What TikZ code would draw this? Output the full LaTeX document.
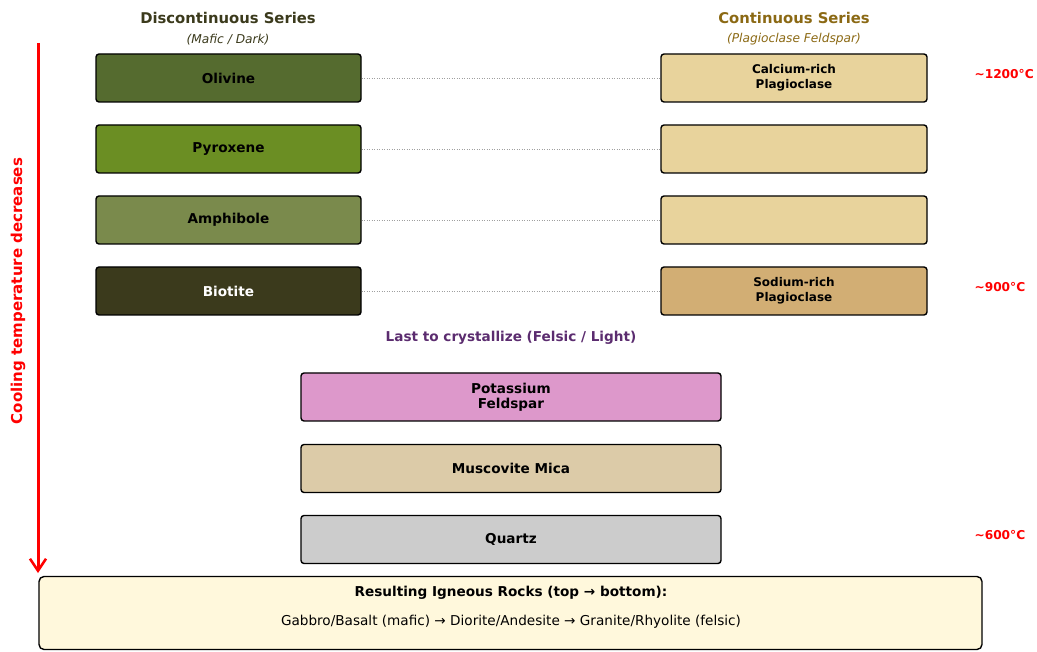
\documentclass[tikz,border=0pt]{standalone}
\usepackage{fontspec}
\setmainfont{DejaVu Sans}
\usetikzlibrary{arrows.meta}
\definecolor{olv}{HTML}{556B2F}
\definecolor{pyx}{HTML}{6B8E23}
\definecolor{amp}{HTML}{7A8A4C}
\definecolor{bio}{HTML}{3B3A1C}
\definecolor{caplag}{HTML}{E8D39C}
\definecolor{naplag}{HTML}{D2AE74}
\definecolor{kfs}{HTML}{DD98CB}
\definecolor{musc}{HTML}{DCCBA8}
\definecolor{qtz}{HTML}{CCCCCC}
\definecolor{res}{HTML}{FFF8DC}
\definecolor{ttlA}{HTML}{3B3A1C}
\definecolor{ttlB}{HTML}{8B6914}
\definecolor{purp}{HTML}{5B2C6F}
\tikzset{
  mineral/.style={draw=black, line width=1.4pt, rounded corners=3pt, minimum height=48pt, inner sep=0pt, align=center, font=\fontsize{13.6}{15}\selectfont\bfseries},
  leftbox/.style={mineral, minimum width=265pt},
  rightbox/.style={mineral, minimum width=266pt, font=\fontsize{12}{15}\selectfont\bfseries},
  midbox/.style={mineral, minimum width=420pt},
  link/.style={draw=gray!75, dotted, line width=0.5pt},
  temp/.style={anchor=west, text=red, font=\fontsize{12.2}{14}\selectfont\bfseries},
}
\begin{document}
\begin{tikzpicture}[x=1pt,y=-1pt]
\useasboundingbox (0,0) rectangle (1037,652);
% titles
\node[text=ttlA, font=\fontsize{14.8}{16}\selectfont\bfseries] (tA) at (228,17.5) {Discontinuous Series};
\node[text=ttlA, font=\fontsize{12.2}{14}\selectfont\itshape] (sA) at (228,39.5) {(Mafic / Dark)};
\node[text=ttlB, font=\fontsize{14.8}{16}\selectfont\bfseries] (tB) at (794,17.5) {Continuous Series};
\node[text=ttlB, font=\fontsize{12.2}{14}\selectfont\itshape] (sB) at (794,39.5) {(Plagioclase Feldspar)};
% left series
\node[leftbox, fill=olv] (ol) at (228.5,78) {Olivine};
\node[leftbox, fill=pyx] (px) at (228.5,149) {Pyroxene};
\node[leftbox, fill=amp] (am) at (228.5,220) {Amphibole};
\node[leftbox, fill=bio, text=white] (bi) at (228.5,291) {Biotite};
% right series
\node[rightbox, fill=caplag] (ca) at (794,78) {\rule{0pt}{3pt}Calcium-rich\\Plagioclase};
\node[rightbox, fill=caplag] (p2) at (794,149) {};
\node[rightbox, fill=caplag] (p3) at (794,220) {};
\node[rightbox, fill=naplag] (na) at (794,291) {\rule{0pt}{3pt}Sodium-rich\\Plagioclase};
% links
\draw[link] (ol.east) -- (ca.west);
\draw[link] (px.east) -- (p2.west);
\draw[link] (am.east) -- (p3.west);
\draw[link] (bi.east) -- (na.west);
% temperatures
\node[temp] (t1) at (971,74.5) {\textasciitilde1200°C};
\node[temp] (t2) at (971,287.5) {\textasciitilde900°C};
\node[temp] (t3) at (971,535.5) {\textasciitilde600°C};
% last to crystallize
\node[text=purp, font=\fontsize{13.6}{15}\selectfont\bfseries] (last) at (511,338) {Last to crystallize (Felsic / Light)};
\node[midbox, fill=kfs] (kf) at (511,397) {\rule{0pt}{3pt}Potassium\\Feldspar};
\node[midbox, fill=musc] (mu) at (511,468.5) {Muscovite Mica};
\node[midbox, fill=qtz] (qz) at (511,539.5) {Quartz};
% cooling arrow
\coordinate (aTop) at (38,43);
\coordinate (aBot) at (38,573);
\draw[red, line width=3pt, -{Straight Barb[length=12pt,width=16pt,line width=2.5pt]}] (aTop) -- (aBot);
\node[rotate=90, text=red, font=\fontsize{15}{17}\selectfont\bfseries] (cool) at (18,291) {Cooling temperature decreases};
% result box
\node[draw=black, line width=1.4pt, rounded corners=5pt, fill=res, minimum width=943pt, minimum height=73pt, inner sep=0pt] (rb) at (510.5,613) {};
\node[font=\fontsize{13.6}{15}\selectfont\bfseries] (rt) at (511,593) {Resulting Igneous Rocks (top → bottom):};
\node[font=\fontsize{13.6}{15}\selectfont] (rl) at (511,621.5) {Gabbro/Basalt (mafic) → Diorite/Andesite → Granite/Rhyolite (felsic)};
\end{tikzpicture}
\end{document}
